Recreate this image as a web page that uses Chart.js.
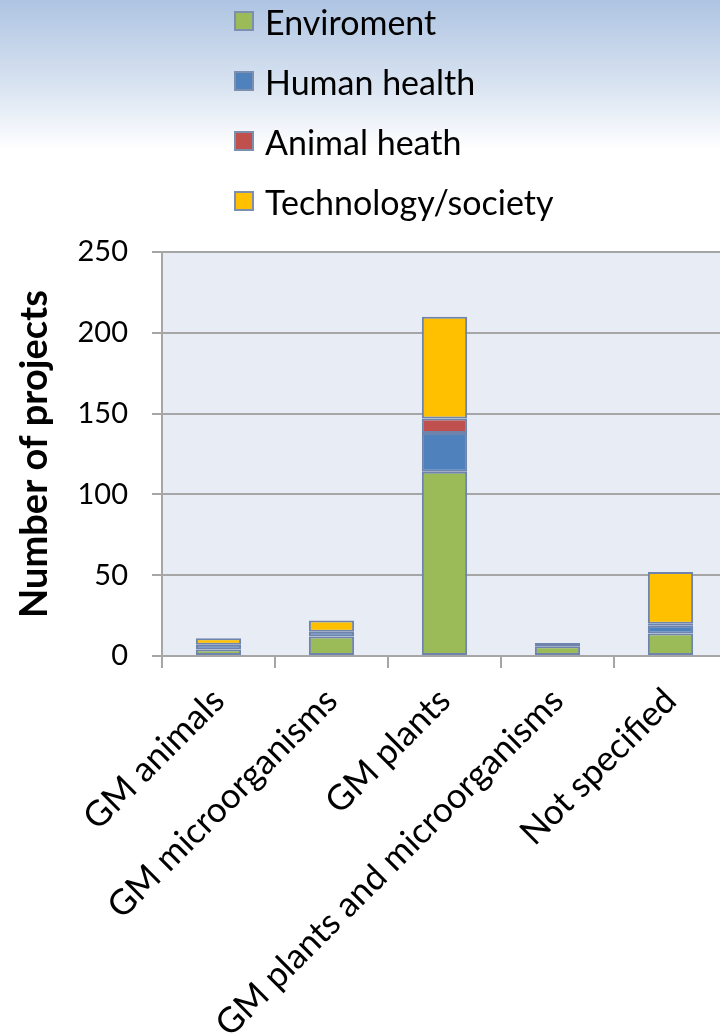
<!doctype html>
<html>
<head>
<meta charset="utf-8">
<title>GM projects by concern</title>
<script src="https://cdn.jsdelivr.net/npm/chart.js@4/dist/chart.umd.min.js"></script>
<style>
  * { margin: 0; padding: 0; box-sizing: border-box; }
  html, body { width: 720px; height: 1034px; overflow: hidden; }
  body { background: linear-gradient(to bottom, #aec4e2 0px, #dbe5f2 90px, #ffffff 150px); font-family: Lato, sans-serif; }
  #wrap { position: absolute; left: 0; top: 0; width: 740px; height: 1034px; }
  #legend { position: absolute; left: 234px; top: -9px; }
  #legend .item { display: flex; align-items: center; height: 60px; font-size: 34px; color: #000; }
  #legend .box { width: 20px; height: 20px; border: 2px solid #7d8fae; margin-right: 11px; }
</style>
</head>
<body>
<div id="wrap"><canvas id="chart" width="740" height="1034"></canvas></div>
<div id="legend"></div>
<script>
// categories + series
const categories = ['GM animals', 'GM microorganisms', 'GM plants', 'GM plants and microorganisms', 'Not specified'];
const enviroment   = [4, 12, 114, 6, 14];
const humanHealth  = [3, 3, 24, 0, 5];
const animalHeath  = [0, 0, 9, 0, 1];
const technology   = [4, 7, 63, 2, 32];
const yTicks = [0, 50, 100, 150, 200, 250];

const series = [
  { label: 'Enviroment', data: enviroment, color: '#9bbb59' },
  { label: 'Human health', data: humanHealth, color: '#4f81bd' },
  { label: 'Animal heath', data: animalHeath, color: '#c0504d' },
  { label: 'Technology/society', data: technology, color: '#ffc000' }
];

// plot background
const plotBg = {
  id: 'plotBg',
  beforeDraw(chart) {
    const a = chart.chartArea, ctx = chart.ctx;
    ctx.save();
    ctx.fillStyle = '#e8ecf4';
    ctx.fillRect(a.left, a.top, a.right - a.left, a.bottom - a.top);
    ctx.restore();
  }
};

const gridCol = '#a6a6a6';

new Chart(document.getElementById('chart'), {
  type: 'bar',
  data: {
    labels: categories,
    datasets: series.map(s => ({
      label: s.label,
      data: s.data,
      backgroundColor: s.color,
      borderColor: '#6e84ac',
      // no outline for empty segments
      borderWidth: ctx => (ctx.raw ? 2 : 0),
      borderSkipped: false,
      barPercentage: 0.4,
      categoryPercentage: 1
    }))
  },
  options: {
    responsive: false,
    animation: false,
    devicePixelRatio: 1,
    layout: { padding: { top: 252, left: 0, right: 13, bottom: 0 } },
    plugins: { legend: { display: false }, tooltip: { enabled: false } },
    scales: {
      x: {
        stacked: true,
        grid: { offset: true, drawOnChartArea: false, tickLength: 12, color: gridCol, lineWidth: 2 },
        border: { color: gridCol, width: 2 },
        ticks: { minRotation: 45, maxRotation: 45, padding: 12, color: '#000', font: { family: 'Lato', size: 35 } },
        afterFit(scale) { scale.height = 378; }
      },
      y: {
        stacked: true,
        min: 0, max: 250,
        afterBuildTicks(scale) { scale.ticks = yTicks.map(v => ({ value: v })); },
        grid: { tickLength: 10, color: gridCol, lineWidth: 2 },
        border: { color: gridCol, width: 2 },
        ticks: { padding: 24, color: '#000', font: { family: 'Lato', size: 29 } },
        title: {
          display: true, text: 'Number of projects', color: '#000',
          font: { family: 'Lato', size: 38, weight: 'bold' },
          padding: { top: 12, bottom: 0 }
        },
        afterFit(scale) { scale.width = 162; }
      }
    }
  },
  plugins: [plotBg]
});

// legend list
const leg = document.getElementById('legend');
series.forEach(s => {
  const row = document.createElement('div');
  row.className = 'item';
  const box = document.createElement('span');
  box.className = 'box';
  box.style.background = s.color;
  row.appendChild(box);
  row.appendChild(document.createTextNode(s.label));
  leg.appendChild(row);
});
</script>
</body>
</html>
